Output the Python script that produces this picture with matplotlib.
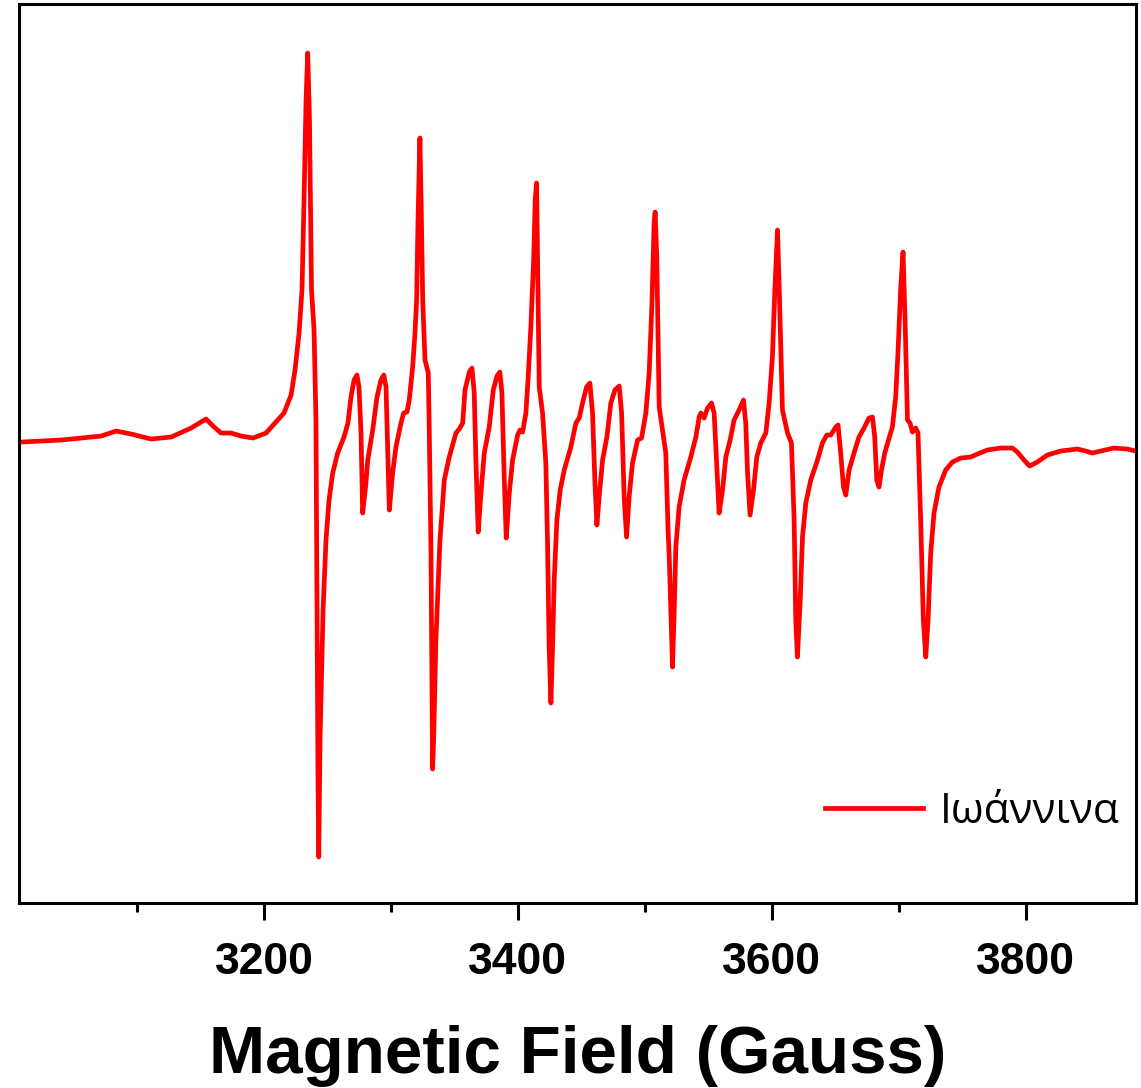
import matplotlib.pyplot as plt

# EPR spectrum (field in Gauss, intensity in arbitrary units)
field_gauss = [
    3008.7, 3040.2, 3071.7, 3083.5, 3095.3, 3111.0, 3126.8, 3142.5, 3154.3, 3159.8,
    3166.1, 3174.0, 3181.9, 3191.3, 3201.6, 3209.4, 3215.7, 3221.3, 3224.4, 3227.6,
    3229.9, 3231.5, 3233.1, 3234.4, 3235.8, 3237.4, 3239.4, 3240.9, 3241.7, 3242.5,
    3243.1, 3244.1, 3246.5, 3248.8, 3251.2, 3254.1, 3258.0, 3263.0, 3266.1, 3268.5,
    3270.9, 3273.2, 3274.8, 3276.4, 3277.7, 3280.3, 3281.7, 3285.6, 3289.0, 3292.1,
    3294.3, 3296.1, 3297.4, 3298.7, 3301.3, 3303.9, 3307.9, 3310.0, 3312.6, 3314.4,
    3317.1, 3318.9, 3320.2, 3321.3, 3322.8, 3324.0, 3325.0, 3326.8, 3329.4, 3330.2,
    3331.5, 3332.3, 3332.8, 3333.6, 3335.4, 3338.6, 3342.0, 3345.9, 3351.2, 3353.8,
    3356.5, 3358.3, 3361.7, 3363.8, 3365.6, 3366.9, 3368.7, 3370.9, 3373.5, 3377.4,
    3380.6, 3383.5, 3385.8, 3387.4, 3389.2, 3390.8, 3393.2, 3395.8, 3399.8, 3401.6,
    3403.7, 3406.3, 3408.1, 3410.2, 3412.4, 3413.6, 3414.7, 3415.5, 3416.8, 3418.1,
    3419.4, 3422.0, 3423.4, 3424.6, 3426.0, 3427.3, 3428.6, 3430.7, 3433.3, 3436.5,
    3441.7, 3445.7, 3448.3, 3450.9, 3454.1, 3456.7, 3458.8, 3460.6, 3462.2, 3464.0,
    3466.7, 3470.1, 3473.2, 3476.4, 3479.8, 3481.7, 3483.7, 3485.6, 3487.6, 3490.3,
    3494.3, 3497.4, 3500.8, 3503.4, 3505.5, 3507.3, 3508.1, 3509.4, 3511.3, 3513.9,
    3516.5, 3518.3, 3519.3, 3520.5, 3521.8, 3523.1, 3524.4, 3527.0, 3530.9, 3536.2,
    3540.2, 3542.8, 3544.1, 3546.7, 3549.4, 3552.5, 3554.6, 3557.2, 3558.5, 3561.2,
    3563.8, 3567.2, 3570.3, 3573.5, 3577.7, 3579.5, 3580.9, 3582.9, 3585.6, 3588.2,
    3591.3, 3595.3, 3597.9, 3600.5, 3602.4, 3604.5, 3605.9, 3608.4, 3612.4, 3615.5,
    3617.6, 3618.9, 3620.2, 3622.3, 3624.2, 3626.8, 3630.7, 3636.0, 3639.9, 3643.3,
    3646.5, 3650.4, 3652.2, 3654.3, 3656.5, 3658.3, 3660.9, 3664.8, 3668.7, 3672.7,
    3676.6, 3679.3, 3681.1, 3682.7, 3684.5, 3686.4, 3689.0, 3692.4, 3695.0, 3697.6,
    3699.4, 3701.6, 3703.4, 3705.0, 3706.9, 3708.9, 3710.8, 3713.4, 3715.2, 3717.3,
    3719.4, 3721.3, 3723.1, 3725.2, 3727.8, 3731.7, 3737.0, 3742.3, 3748.8, 3756.7,
    3762.0, 3769.8, 3780.3, 3789.5, 3793.5, 3798.7, 3803.1, 3809.2, 3817.1, 3827.6,
    3840.7, 3847.2, 3852.5, 3859.1, 3869.5, 3880.1, 3886.6,
]
intensity = [
    -2, 0, 4, 9, 6, 1, 3, 12, 21, 14,
    7, 7, 4, 2, 7, 18, 27, 45, 70, 107,
    150, 240, 340, 387, 320, 150, 110, 20, -160, -340,
    -417, -300, -170, -100, -60, -33, -13, 3, 17, 43,
    60, 65, 53, 7, -73, -43, -20, 10, 43, 60,
    65, 53, -10, -70, -33, -7, 17, 27, 28, 40,
    73, 107, 140, 220, 302, 220, 140, 80, 67, 7,
    -110, -240, -329, -300, -200, -100, -40, -17, 7, 11,
    17, 50, 68, 72, 47, -20, -92, -53, -13, 13,
    50, 64, 68, 47, -37, -98, -53, -20, 5, 10,
    8, 27, 63, 113, 180, 240, 257, 180, 53, 40,
    27, -23, -107, -207, -263, -207, -140, -80, -50, -30,
    -7, 17, 22, 37, 53, 57, 27, -40, -85, -57,
    -20, 3, 37, 50, 54, 27, -57, -97, -57, -23,
    0, 2, 27, 67, 133, 217, 228, 183, 33, 10,
    -13, -90, -120, -173, -227, -173, -107, -67, -40, -17,
    3, 23, 27, 22, 32, 37, 27, -40, -73, -50,
    -17, 0, 20, 28, 40, 17, -33, -75, -50, -17,
    -3, 7, 37, 83, 150, 210, 150, 30, 7, -3,
    -80, -180, -217, -163, -97, -63, -40, -20, -3, 5,
    5, 13, 15, -13, -47, -55, -30, -13, 3, 12,
    22, 23, 3, -40, -47, -30, -13, 2, 13, 43,
    87, 153, 188, 120, 20, 17, 8, 12, 7, -80,
    -180, -217, -180, -113, -73, -47, -30, -22, -18, -17,
    -14, -10, -8, -8, -12, -20, -26, -22, -15, -11,
    -9, -11, -13, -11, -8, -9, -11,
]
sample_name = "Ιωάννινα"
x_label = "Magnetic Field (Gauss)"
major_ticks = [3200, 3400, 3600, 3800]
minor_ticks = [3100, 3300, 3500, 3700]

fig = plt.figure(figsize=(11.41, 10.88), dpi=100)
ax = fig.add_axes([0.0167, 0.170, 0.979, 0.8263])

ax.plot(field_gauss, intensity, color="#ff0000", linewidth=3.4,
        solid_joinstyle="round", label=sample_name)

ax.set_xlim(3007, 3887)
ax.set_ylim(-463, 436)

ax.set_xticks(major_ticks)
ax.set_xticks(minor_ticks, minor=True)
ax.set_xticklabels([str(t) for t in major_ticks],
                   fontfamily="Liberation Sans", fontweight="bold", fontsize=32)
ax.set_yticks([])
ax.tick_params(axis="x", which="major", direction="out", length=12, width=2.2, pad=16)
ax.tick_params(axis="x", which="minor", direction="out", length=6.5, width=2.2)

for spine in ax.spines.values():
    spine.set_linewidth(2.2)

ax.set_xlabel(x_label, fontfamily="Liberation Sans", fontweight="bold",
              fontsize=48.5, labelpad=30)

leg = ax.legend(loc="center right", bbox_to_anchor=(0.985, 0.101), frameon=False,
                handlelength=2.3, handletextpad=0.4, borderpad=0, borderaxespad=0,
                prop={"family": "Open Sans", "size": 30.5})

fig.savefig("out.png", dpi=100)
